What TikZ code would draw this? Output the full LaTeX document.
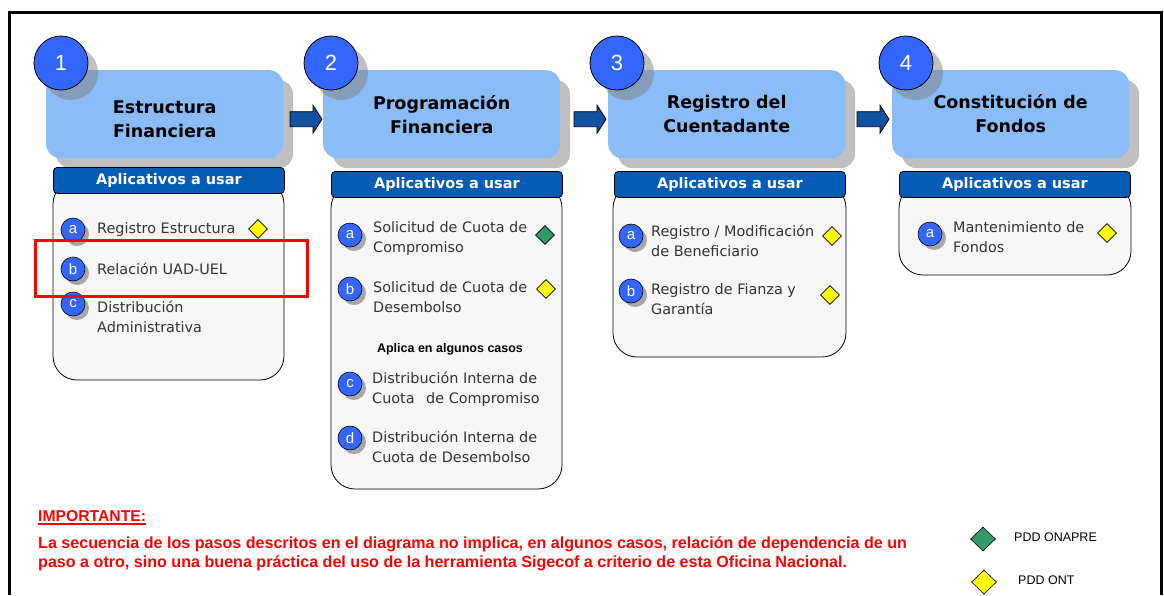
\documentclass[tikz,border=0pt]{standalone}
\usepackage{fontspec}
\setmainfont{DejaVu Sans}
\newfontfamily\arial{Liberation Sans}
\usetikzlibrary{calc,shapes.geometric}
\definecolor{titlefill}{RGB}{138,188,248}
\definecolor{circfill}{RGB}{51,102,255}
\definecolor{headfill}{RGB}{4,92,180}
\definecolor{bodyfill}{RGB}{247,247,247}
\definecolor{shadowgray}{RGB}{191,191,191}
\definecolor{arrowblue}{RGB}{16,82,160}
\definecolor{itemtext}{RGB}{51,51,51}
\definecolor{onapre}{RGB}{51,153,102}
\definecolor{ontyellow}{RGB}{255,255,0}
\tikzset{
  titlebox/.style={fill=titlefill, rounded corners=14pt, minimum width=237pt, minimum height=88pt, anchor=north west, inner sep=0pt},
  titletext/.style={align=center, font=\fontsize{17.5}{24}\selectfont\bfseries, text=black, inner sep=0pt},
  numcirc/.style={circle, draw=black, line width=0.8pt, fill=circfill, minimum size=54pt, inner sep=0pt, text=white, font=\arial\fontsize{22}{22}\selectfont},
  headbar/.style={draw=black, line width=0.8pt, fill=headfill, rounded corners=4pt, anchor=north west, minimum width=231pt, minimum height=26pt, inner sep=0pt, text=white, font=\fontsize{14.5}{15}\selectfont\bfseries},
  bodybox/.style={draw=black, line width=0.8pt, fill=bodyfill, rounded corners=24pt},
  itemcirc/.style={circle, draw=black, line width=0.6pt, fill=circfill, minimum size=24pt, inner sep=0pt, text=white, font=\arial\fontsize{15}{15}\selectfont},
  itemtxt/.style={anchor=west, align=left, inner sep=0pt, text=itemtext, font=\fontsize{14.4}{20}\selectfont},
  ydiam/.style={diamond, draw=black, line width=0.6pt, fill=ontyellow, minimum width=19pt, minimum height=19pt, inner sep=0pt},
  gdiam/.style={diamond, draw=black, line width=0.6pt, fill=onapre, minimum width=19pt, minimum height=19pt, inner sep=0pt},
  blockarrow/.style={draw=black, line width=0.8pt, fill=arrowblue},
  redtext/.style={text=red, inner sep=0pt, font=\arial\bfseries\fontsize{16.1}{19}\selectfont},
  legtxt/.style={anchor=west, inner sep=0pt, text=black, font=\arial\fontsize{12.5}{14}\selectfont},
}
% #1 id, #2 box left x, #3 circle x, #4 number, #5 title, #6 text shift
\newcommand\mkstep[6]{%
  \fill[shadowgray, rounded corners=14pt] (#2+10,80) rectangle (#2+247,168);
  \node[titlebox] (#1) at (#2,70) {};
  \node[titletext] (#1txt) at ($(#1.center)+(0,#6)$) {#5};
  \fill[gray, opacity=0.5] (#3+10,73) circle (27);
  \node[numcirc] (#1num) at (#3,63) {#4};
}
% #1 id, #2 x, #3 y
\newcommand\mkitem[4]{%
  \fill[gray!70] (#2+4,#3+4) circle (12);
  \node[itemcirc] (#1) at (#2,#3) {#4};
}
% tip at target node
\newcommand\mkarrow[2]{%
  \path ($(#1.west)+(#2,5)$) coordinate (tip#1);
  \draw[blockarrow] (tip#1) -- ++(-9,-14) -- ++(0,6.5) -- ++(-23,0) -- ++(0,15) -- ++(23,0) -- ++(0,6.5) -- cycle;
}
\begin{document}
\begin{tikzpicture}[x=1pt,y=-1pt]
\useasboundingbox (0,0) rectangle (1164,595);
\fill[white] (0,0) rectangle (1164,595);
\draw[line width=3pt] (9,595) -- (9,12) -- (1161,12) -- (1161,595);

% steps
\mkstep{s1}{46}{61}{1}{Estructura\\Financiera}{5}
\mkstep{s2}{323}{331}{2}{Programación\\Financiera}{0}
\mkstep{s3}{608}{617}{3}{Registro del\\Cuentadante}{0}
\mkstep{s4}{892}{906}{4}{Constitución de\\Fondos}{-1}

% arrows
\mkarrow{s2}{-1}
\mkarrow{s3}{-2}
\mkarrow{s4}{-3}

% bodies
\draw[bodybox] (53,180) rectangle (284,380);
\draw[bodybox] (331,184) rectangle (562,489);
\draw[bodybox] (613,184) rectangle (846,357);
\draw[bodybox] (899,184) rectangle (1131,275);

% headers
\node[headbar] (h1) at (53,167) {Aplicativos a usar};
\node[headbar] (h2) at (331,171) {Aplicativos a usar};
\node[headbar] (h3) at (614,171) {Aplicativos a usar};
\node[headbar] (h4) at (899,171) {Aplicativos a usar};

% box 1 items
\mkitem{i1a}{73}{230}{a}
\node[itemtxt] (t1a) at (97,230) {Registro Estructura};
\node[ydiam] (d1a) at (258,229) {};
\mkitem{i1b}{73}{269}{b}
\node[itemtxt] (t1b) at (97,269) {Relación UAD-UEL};
\mkitem{i1c}{73}{304}{c}
\node[itemtxt] (t1c) at (97,317) {Distribución\\Administrativa};
\node[draw=red, line width=3pt, minimum width=272pt, minimum height=56pt, inner sep=0pt] (hl) at (171,268) {};

% box 2 items
\mkitem{i2a}{350}{235}{a}
\node[itemtxt] (t2a) at (373,239) {Solicitud de Cuota de\\Compromiso};
\node[gdiam] (d2a) at (545,235) {};
\mkitem{i2b}{350}{289}{b}
\node[itemtxt] (t2b) at (373,297) {Solicitud de Cuota de\\Desembolso};
\node[ydiam] (d2b) at (546,289) {};
\node[inner sep=0pt, font=\arial\bfseries\fontsize{12.5}{14}\selectfont] (apl) at (450,349) {Aplica en algunos casos};
\mkitem{i2c}{350}{384}{c}
\node[itemtxt] (t2c) at (372,389) {Distribución Interna de\\Cuota\hspace{7pt} de Compromiso};
\mkitem{i2d}{350}{438}{d}
\node[itemtxt] (t2d) at (372,447) {Distribución Interna de\\Cuota de Desembolso};

% box 3 items
\mkitem{i3a}{631}{236}{a}
\node[itemtxt] (t3a) at (651,241) {Registro / Modificación\\de Beneficiario};
\node[ydiam] (d3a) at (832,236) {};
\mkitem{i3b}{631}{291}{b}
\node[itemtxt] (t3b) at (651,299) {Registro de Fianza y\\Garantía};
\node[ydiam] (d3b) at (830,295) {};

% box 4 items
\mkitem{i4a}{930}{234}{a}
\node[itemtxt] (t4a) at (953,237) {Mantenimiento de\\Fondos};
\node[ydiam] (d4a) at (1107,233) {};

% note
\node[redtext, anchor=base west, font=\arial\bfseries\fontsize{15.7}{19}\selectfont] (imp) at (38,521.5) {IMPORTANTE:};
\draw[red, line width=2pt] (imp.south west) ++(0,2.5) -- ($(imp.south east)+(0,2.5)$);
\node[redtext, anchor=base west] (imp1) at (38,548.5) {La secuencia de los pasos descritos en el diagrama no implica, en algunos casos, relación de dependencia de un};
\node[redtext, anchor=base west] (imp2) at (38,567.5) {paso a otro, sino una buena práctica del uso de la herramienta Sigecof a criterio de esta Oficina Nacional.};

% legend
\node[gdiam, minimum width=25pt, minimum height=24pt] (lg) at (983,539) {};
\node[legtxt] (lgt) at (1014,537) {PDD ONAPRE};
\node[ydiam, minimum width=25pt, minimum height=24pt] (ly) at (984,582) {};
\node[legtxt] (lyt) at (1018,580) {PDD ONT};
\end{tikzpicture}
\end{document}
